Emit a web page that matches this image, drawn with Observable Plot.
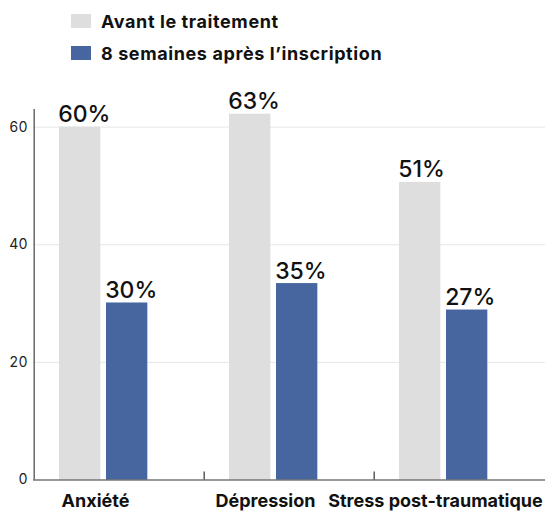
<!DOCTYPE html>
<html>
<head>
<meta charset="utf-8">
<script src="https://cdn.jsdelivr.net/npm/d3@7"></script>
<script src="https://cdn.jsdelivr.net/npm/@observablehq/plot@0.6"></script>
<style>
  body { margin: 0; background: #fff; font-family: Inter, "Noto Sans", sans-serif; }
  #legend { height: 72px; box-sizing: border-box; padding-top: 5px; padding-left: 71px; }
  .row { display: flex; align-items: center; height: 32px; font-weight: 700; font-size: 18px; letter-spacing: 0.6px; color: #111; }
  .sw { width: 20px; height: 14px; margin-right: 10px; }
  svg { display: block; }
</style>
</head>
<body>
<div id="legend"></div>
<div id="chart"></div>
<script>
const categories = ["Anxiété", "Dépression", "Stress post-traumatique"];
const series = ["Avant le traitement", "8 semaines après l’inscription"];
const avant = [60, 62.2, 50.6];
const apres = [30.1, 33.4, 28.9];
const avantLabels = ["60%", "63%", "51%"];
const apresLabels = ["30%", "35%", "27%"];
const yTicks = [0, 20, 40, 60];
const gridTicks = [20, 40, 60];
const colors = ["#dedede", "#4766a0"];

const legend = document.getElementById("legend");
series.forEach((s, i) => {
  const row = document.createElement("div");
  row.className = "row";
  const sw = document.createElement("span");
  sw.className = "sw";
  sw.style.background = colors[i];
  row.appendChild(sw);
  row.appendChild(document.createTextNode(s));
  legend.appendChild(row);
});

const W = 558, H = 439, mL = 33, mR = 13;
const bw = (W - mL - mR) / categories.length;
const barW = 42, off1 = 25, off2 = 72;

const rowsA = categories.map((c, i) => ({cat: c, v: avant[i], label: avantLabels[i]}));
const rowsB = categories.map((c, i) => ({cat: c, v: apres[i], label: apresLabels[i]}));

const plot = Plot.plot({
  width: W,
  height: H,
  marginLeft: mL,
  marginRight: mR,
  marginTop: 37,
  marginBottom: 31.5,
  style: {fontFamily: "Inter, 'Noto Sans', sans-serif", background: "#fff"},
  x: {domain: categories, padding: 0, axis: null},
  y: {domain: [0, 63], axis: null},
  marks: [
    Plot.ruleY(gridTicks, {stroke: "#e6e6e6", strokeWidth: 1}),
    Plot.barY(rowsA, {x: "cat", y: "v", fill: colors[0], insetLeft: off1, insetRight: bw - off1 - barW}),
    Plot.barY(rowsB, {x: "cat", y: "v", fill: colors[1], insetLeft: off2, insetRight: bw - off2 - barW}),
    Plot.text(rowsA, {x: "cat", y: "v", text: "label", textAnchor: "start", lineAnchor: "bottom", dx: off1 - bw / 2 - 1, dy: -5, fontSize: 23, fontWeight: 500, letterSpacing: 3, fill: "#111"}),
    Plot.text(rowsB, {x: "cat", y: "v", text: "label", textAnchor: "start", lineAnchor: "bottom", dx: off2 - bw / 2 - 1, dy: -5, fontSize: 23, fontWeight: 500, letterSpacing: 3, fill: "#111"}),
    Plot.ruleY([0], {stroke: "#333", strokeWidth: 1.2}),
    Plot.ruleX(categories.slice(0, 1), {x: d => d, dx: -bw / 2, y1: 0, y2: 63, stroke: "#444", strokeWidth: 1.2}),
    Plot.ruleX(categories.slice(1), {x: d => d, dx: -bw / 2, y1: 0, y2: 0, insetTop: -8, stroke: "#333", strokeWidth: 1.2}),
    Plot.axisY({ticks: yTicks, tickSize: 0, tickPadding: 6, fontSize: 14, fill: "#222", label: null}),
    Plot.text(categories, {x: d => d, y: 0, text: d => d, lineAnchor: "bottom", dy: 26.5, dx: -24, fontSize: 18, fontWeight: 700, letterSpacing: 0.6, fill: "#111"})
  ]
});
document.getElementById("chart").appendChild(plot);
</script>
</body>
</html>
